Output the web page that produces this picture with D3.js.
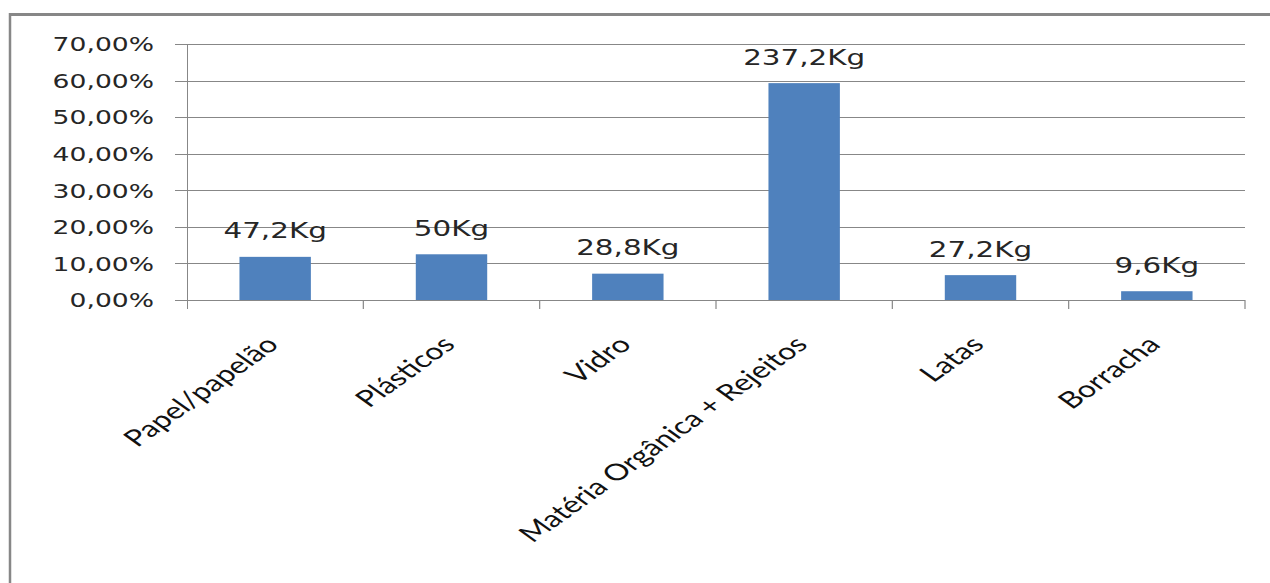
<!DOCTYPE html>
<html>
<head>
<meta charset="utf-8">
<script src="https://cdn.jsdelivr.net/npm/d3@7"></script>
<style>
  html, body { margin: 0; padding: 0; background: #fff; }
  svg { display: block; }
</style>
</head>
<body>
<svg id="chart"></svg>
<script>
// ---- data ----
const categories = ["Papel/papelão", "Plásticos", "Vidro", "Matéria Orgânica + Rejeitos", "Latas", "Borracha"];
const percentValues = [11.8, 12.5, 7.2, 59.3, 6.8, 2.4];
const weightLabels = ["47,2Kg", "50Kg", "28,8Kg", "237,2Kg", "27,2Kg", "9,6Kg"];
const yTickValues = [0, 10, 20, 30, 40, 50, 60, 70];
const yTickLabels = ["0,00%", "10,00%", "20,00%", "30,00%", "40,00%", "50,00%", "60,00%", "70,00%"];

// ---- layout (the reference is horizontally stretched; draw compressed then stretch) ----
const W = 1270, H = 583;
const SX = 1.4;
const VW = W / SX;
const px = v => v / SX;

const plotLeft = px(187), plotRight = px(1245);
const plotTop = 44, plotBottom = 300;

const svg = d3.select("#chart")
  .attr("width", W).attr("height", H)
  .attr("viewBox", `0 0 ${VW} ${H}`)
  .attr("preserveAspectRatio", "none");

const x = d3.scaleBand().domain(categories).range([plotLeft, plotRight])
  .paddingInner(0.595).paddingOuter(0.2975);
const y = d3.scaleLinear().domain([0, 70]).range([plotBottom, plotTop]);

const grey = "#878787";

// outer border (top and left visible)
svg.append("line").attr("x1", px(10)).attr("x2", VW + 5).attr("y1", 14.5).attr("y2", 14.5)
  .attr("stroke", grey).attr("stroke-width", 3).attr("vector-effect", "non-scaling-stroke");
svg.append("line").attr("x1", px(10)).attr("x2", px(10)).attr("y1", 13).attr("y2", H + 5)
  .attr("stroke", grey).attr("stroke-width", 2.5).attr("vector-effect", "non-scaling-stroke");

// gridlines via y axis
const yAxis = d3.axisLeft(y).tickValues(yTickValues)
  .tickSize(-(plotRight - plotLeft))
  .tickFormat((d, i) => yTickLabels[i]);
const gy = svg.append("g").attr("transform", `translate(${plotLeft},0)`).call(yAxis);
gy.select(".domain").remove();
gy.selectAll(".tick line")
  .attr("x1", -px(12))
  .attr("stroke", grey).attr("stroke-width", 1).attr("vector-effect", "non-scaling-stroke")
  .attr("shape-rendering", "crispEdges");
gy.selectAll(".tick text")
  .attr("x", px(154) - plotLeft)
  .attr("dy", "0.36em")
  .attr("text-anchor", "end")
  .style("font-family", "'DejaVu Sans', Verdana, sans-serif")
  .style("font-size", "19px")
  .attr("fill", "#262626");

// y axis line
svg.append("line").attr("x1", plotLeft).attr("x2", plotLeft).attr("y1", plotTop).attr("y2", plotBottom + 9)
  .attr("stroke", grey).attr("stroke-width", 1).attr("vector-effect", "non-scaling-stroke")
  .attr("shape-rendering", "crispEdges");

// x axis baseline and ticks at category boundaries
svg.append("line").attr("x1", plotLeft - px(12)).attr("x2", plotRight).attr("y1", plotBottom).attr("y2", plotBottom)
  .attr("stroke", grey).attr("stroke-width", 1).attr("vector-effect", "non-scaling-stroke")
  .attr("shape-rendering", "crispEdges");
const boundaries = categories.map(c => x(c) - x.step() * x.paddingOuter() + x.step());
svg.append("g").selectAll("line").data(boundaries).join("line")
  .attr("x1", d => d).attr("x2", d => d)
  .attr("y1", plotBottom).attr("y2", plotBottom + 9)
  .attr("stroke", grey).attr("stroke-width", 1.2).attr("vector-effect", "non-scaling-stroke");

// bars
svg.append("g").selectAll("rect").data(percentValues).join("rect")
  .attr("x", (d, i) => x(categories[i]))
  .attr("width", x.bandwidth())
  .attr("y", d => y(d))
  .attr("height", d => y(0) - y(d))
  .attr("fill", "#4F81BD");

// data labels
svg.append("g").selectAll("text").data(percentValues).join("text")
  .attr("x", (d, i) => x(categories[i]) + x.bandwidth() / 2)
  .attr("y", d => y(d) - 18.5)
  .attr("text-anchor", "middle")
  .style("font-family", "'DejaVu Sans', Verdana, sans-serif")
  .style("font-size", "21px")
  .attr("fill", "#262626")
  .text((d, i) => weightLabels[i]);

// category labels, rotated
svg.append("g").selectAll("text").data(categories).join("text")
  .attr("transform", d => `translate(${x(d) + x.bandwidth() / 2 + px(5)},${346}) rotate(-45)`)
  .attr("text-anchor", "end")
  .style("font-family", "Lato, 'Open Sans', sans-serif")
  .style("font-size", "23px")
  .attr("fill", "#111")
  .text(d => d);
</script>
</body>
</html>
